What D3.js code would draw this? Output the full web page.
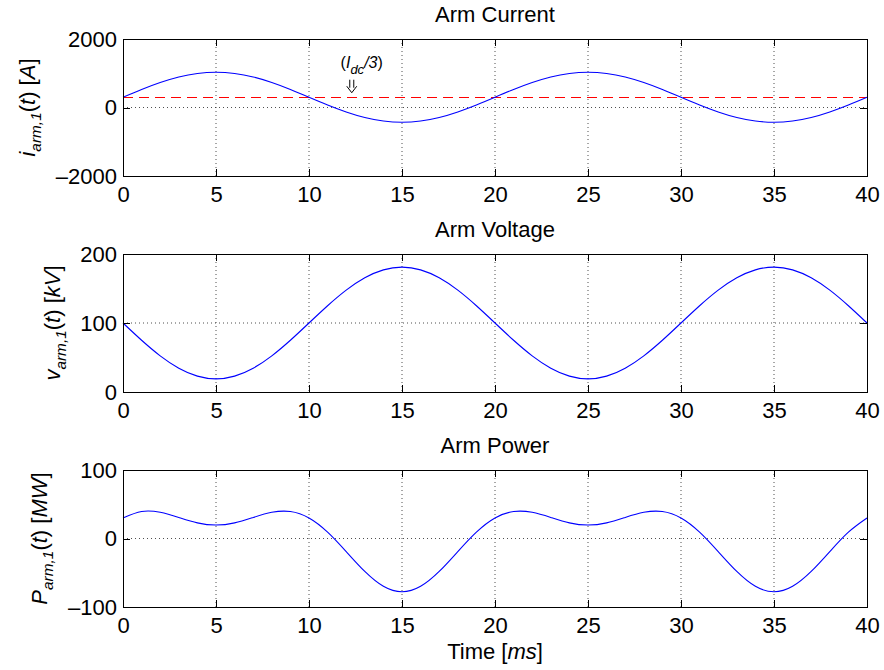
<!DOCTYPE html>
<html>
<head>
<meta charset="utf-8">
<script src="https://cdn.jsdelivr.net/npm/d3@7"></script>
<style>
  body { margin: 0; background: #fff; }
  text { font-family: "Liberation Sans", Arial, Helvetica, sans-serif; }
</style>
</head>
<body>
<script>
// time axis, ms
const timeMs = [0, 1, 2, 3, 4, 5, 6, 7, 8, 9, 10, 11, 12, 13, 14, 15, 16, 17, 18, 19, 20,
                21, 22, 23, 24, 25, 26, 27, 28, 29, 30, 31, 32, 33, 34, 35, 36, 37, 38, 39, 40];
// arm current [A]
const armCurrent = [300, 526, 729, 891, 994, 1030, 994, 891, 729, 526, 300, 74, -129, -291, -394, -430, -394, -291, -129, 74, 300,
                    526, 729, 891, 994, 1030, 994, 891, 729, 526, 300, 74, -129, -291, -394, -430, -394, -291, -129, 74, 300];
// arm voltage [kV]
const armVoltage = [100, 75, 52.4, 34.5, 23, 19, 23, 34.5, 52.4, 75, 100, 125, 147.6, 165.5, 177, 181, 177, 165.5, 147.6, 125, 100,
                    75, 52.4, 34.5, 23, 19, 23, 34.5, 52.4, 75, 100, 125, 147.6, 165.5, 177, 181, 177, 165.5, 147.6, 125, 100];
// arm power [MW]
const armPower = [30, 39.4, 38.2, 30.7, 22.8, 19.6, 22.8, 30.7, 38.2, 39.4, 30, 9.3, -19.1, -48.1, -69.8, -77.8, -69.8, -48.1, -19.1, 9.3, 30,
                  39.4, 38.2, 30.7, 22.8, 19.6, 22.8, 30.7, 38.2, 39.4, 30, 9.3, -19.1, -48.1, -69.8, -77.8, -69.8, -48.1, -19.1, 9.3, 30];
const idcThird = 300;   // Idc/3 reference level [A]

const xTicks = [0, 5, 10, 15, 20, 25, 30, 35, 40];
const currentTicks = [-2000, 0, 2000];
const voltageTicks = [0, 100, 200];
const powerTicks = [-100, 0, 100];

const width = 884, height = 670;
const left = 123, right = 867;
const fontSize = 22;

const svg = d3.select("body").append("svg")
    .attr("width", width).attr("height", height);

const x = d3.scaleLinear().domain([0, 40]).range([left, right]);
const fmt = d => (d < 0 ? "\u2013" + Math.abs(d) : String(d));

function panel(o) {
    const y = d3.scaleLinear().domain(o.domain).range([o.bottom, o.top]);
    const g = svg.append("g");

    // grid (dotted)
    g.selectAll(".xgrid").data(xTicks.slice(1, -1)).enter().append("line")
        .attr("x1", d => x(d)).attr("x2", d => x(d))
        .attr("y1", o.top).attr("y2", o.bottom)
        .attr("stroke", "#222").attr("stroke-width", 0.8)
        .attr("stroke-dasharray", "1,3");
    g.selectAll(".ygrid").data(o.ticks.slice(1, -1)).enter().append("line")
        .attr("x1", left).attr("x2", right)
        .attr("y1", d => y(d)).attr("y2", d => y(d))
        .attr("stroke", "#222").attr("stroke-width", 0.8)
        .attr("stroke-dasharray", "1,3");

    if (o.refLevel !== undefined) {
        g.append("line")
            .attr("x1", left).attr("x2", right)
            .attr("y1", Math.round(y(o.refLevel)) + 0.5).attr("y2", Math.round(y(o.refLevel)) + 0.5)
            .attr("stroke", "#ff0000").attr("stroke-width", 1)
            .attr("stroke-dasharray", "10,6");
    }

    const line = d3.line()
        .x((d, i) => x(timeMs[i]))
        .y(d => y(d))
        .curve(d3.curveNatural);
    g.append("path").datum(o.values)
        .attr("d", line)
        .attr("fill", "none")
        .attr("stroke", "#0000ff")
        .attr("stroke-width", 1.1);

    // axes, ticks inward
    const bx = g.append("g").attr("transform", "translate(0," + o.bottom + ")")
        .call(d3.axisBottom(x).tickValues(xTicks).tickSize(-7).tickSizeOuter(0).tickPadding(10));
    const tx = g.append("g").attr("transform", "translate(0," + o.top + ")")
        .call(d3.axisTop(x).tickValues(xTicks).tickSize(-7).tickSizeOuter(0).tickFormat(""));
    const ly = g.append("g").attr("transform", "translate(" + left + ",0)")
        .call(d3.axisLeft(y).tickValues(o.ticks).tickSize(-7).tickSizeOuter(0).tickPadding(6).tickFormat(fmt));
    const ry = g.append("g").attr("transform", "translate(" + right + ",0)")
        .call(d3.axisRight(y).tickValues(o.ticks).tickSize(-7).tickSizeOuter(0).tickFormat(""));
    [bx, tx, ly, ry].forEach(a => {
        a.select(".domain").remove();
        a.selectAll("line").attr("stroke", "#000").attr("shape-rendering", "crispEdges");
        a.selectAll("text").attr("font-size", fontSize).attr("fill", "#000")
            .attr("font-family", "Liberation Sans, Arial, sans-serif");
    });

    g.append("rect")
        .attr("x", left).attr("y", o.top)
        .attr("width", right - left).attr("height", o.bottom - o.top)
        .attr("fill", "none").attr("stroke", "#000").attr("stroke-width", 1)
        .attr("shape-rendering", "crispEdges");

    // title
    g.append("text")
        .attr("x", (left + right) / 2).attr("y", o.top - 17)
        .attr("text-anchor", "middle").attr("font-size", fontSize)
        .text(o.title);

    // y label
    const lab = g.append("text")
        .attr("transform", "translate(" + o.labelX + "," + (o.top + o.bottom) / 2 + ") rotate(-90)")
        .attr("text-anchor", "middle").attr("font-size", fontSize);
    addParts(lab, o.label, 6);

    return y;
}

function addParts(txt, parts, shift) {
    let sub = false;
    parts.forEach(p => {
        const t = txt.append("tspan").text(p.t);
        if (p.it) t.attr("font-style", "italic");
        if (p.sub && !sub) { t.attr("dy", shift).attr("font-size", fontSize * 0.7); sub = true; }
        else if (p.sub) { t.attr("font-size", fontSize * 0.7); }
        else if (!p.sub && sub) { t.attr("dy", -shift); sub = false; }
    });
}

const yI = panel({
    top: 39, bottom: 176, domain: [-2000, 2000], ticks: currentTicks,
    values: armCurrent, refLevel: idcThird, title: "Arm Current", labelX: 35,
    label: [{t: "i", it: true}, {t: "arm,1", it: true, sub: true}, {t: "("}, {t: "t", it: true}, {t: ") ["}, {t: "A", it: true}, {t: "]"}]
});
panel({
    top: 254, bottom: 392, domain: [0, 200], ticks: voltageTicks,
    values: armVoltage, title: "Arm Voltage", labelX: 60,
    label: [{t: "v", it: true}, {t: "arm,1", it: true, sub: true}, {t: "("}, {t: "t", it: true}, {t: ") ["}, {t: "kV", it: true}, {t: "]"}]
});
panel({
    top: 470, bottom: 607, domain: [-100, 100], ticks: powerTicks,
    values: armPower, title: "Arm Power", labelX: 47,
    label: [{t: "P", it: true}, {t: "arm,1", it: true, sub: true}, {t: "("}, {t: "t", it: true}, {t: ") ["}, {t: "MW", it: true}, {t: "]"}]
});

// x label
const xl = svg.append("text")
    .attr("x", (left + right) / 2).attr("y", 659)
    .attr("text-anchor", "middle").attr("font-size", fontSize);
addParts(xl, [{t: "Time ["}, {t: "ms", it: true}, {t: "]"}], 0);

// Idc/3 annotation
const y0 = yI(idcThird);
const ann = svg.append("text")
    .attr("x", x(11.7)).attr("y", y0 - 29)
    .attr("font-size", 16);
[{t: "(", it: false}, {t: "I", it: true}, {t: "dc", it: true, sub: true}, {t: "/3", it: true}, {t: ")"}].forEach(p => {
    const t = ann.append("tspan").text(p.t);
    if (p.it) t.attr("font-style", "italic");
    if (p.sub) t.attr("dy", 6).attr("font-size", 13);
    if (p.t === "/3") t.attr("dy", -6);
});
// double arrow pointing down at the dashed line
const ax = x(12.3);
svg.append("path")
    .attr("d", "M" + (ax - 2) + "," + (y0 - 17.5) + "V" + (y0 - 9.5) +
               "M" + (ax + 2) + "," + (y0 - 17.5) + "V" + (y0 - 9.5) +
               "M" + (ax - 5) + "," + (y0 - 11) + "L" + ax + "," + (y0 - 4.5) + "L" + (ax + 5) + "," + (y0 - 11))
    .attr("fill", "none").attr("stroke", "#000").attr("stroke-width", 1);
</script>
</body>
</html>
